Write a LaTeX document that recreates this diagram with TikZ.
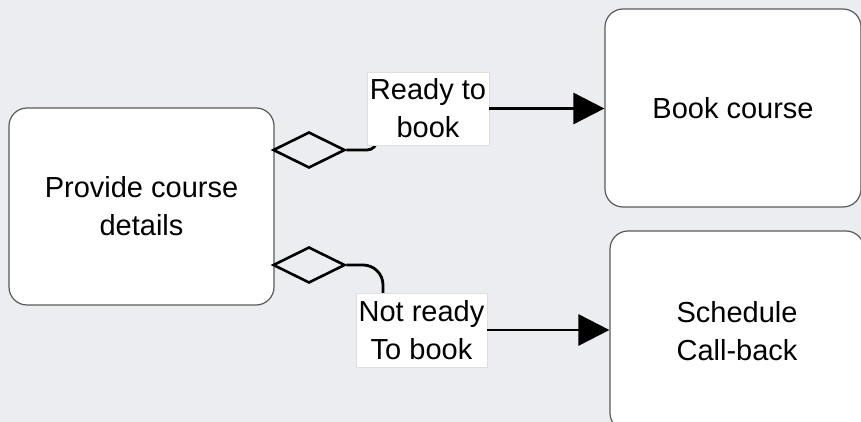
\documentclass[tikz,border=0pt]{standalone}
\usepackage{fontspec}
\setmainfont{Liberation Sans}
\usetikzlibrary{shapes.geometric,arrows.meta}
\definecolor{canvas}{RGB}{236,237,241}
\definecolor{boxline}{RGB}{90,90,90}
\definecolor{tagline}{RGB}{222,222,226}
\tikzset{
  x=1pt, y=-1pt,
  txt/.style={font=\fontsize{29}{38}\selectfont, align=center},
  activity/.style={txt, draw=boxline, line width=1.2pt, fill=white,
    rounded corners=18pt, inner sep=0pt},
  tag/.style={txt, draw=tagline, line width=0.8pt, fill=white, inner sep=0pt},
  gate/.style={diamond, aspect=2, draw=black, line width=2.6pt,
    minimum width=72pt, minimum height=36pt, inner sep=0pt},
  conn/.style={draw=black, line width=2.8pt},
  flow/.style={conn, -{Triangle[length=31pt,width=31pt]}}
}
\begin{document}
\begin{tikzpicture}
  \fill[canvas] (0,0) rectangle (861,422);
  \useasboundingbox (0,0) rectangle (861,422);
  \clip (0,0) rectangle (861,422);

  % activities
  \node[activity, minimum width=265pt, minimum height=197pt] (provide)
    at (141.5,206.5) {Provide course\\details};
  \node[activity, minimum width=256pt, minimum height=198pt] (book)
    at (733,108) {Book course};
  \node[activity, minimum width=254pt, minimum height=200pt] (sched)
    at (737,331) {Schedule\\Call-back};

  % decision gates on the right side of the first activity
  \node[gate] (g1) at (309,150) {};
  \node[gate] (g2) at (309,265) {};

  % bends of the outgoing connectors
  \coordinate (b1) at (377,130);
  \coordinate (b2) at (383,310);
  \draw[conn, rounded corners=10pt] (g1.east) -| (b1);
  \draw[conn, rounded corners=20pt] (g2.east) -| (b2);

  % condition labels
  \node[tag, minimum width=122pt, minimum height=73pt] (t1)
    at (428,108.5) {Ready to\\book};
  \node[tag, minimum width=131pt, minimum height=74pt] (t2)
    at (421.5,330) {Not ready\\To book};

  % flows into the next activities
  \draw[flow] (t1.east) -- (t1.east -| book.west);
  \draw[flow] (t2.east) -- (t2.east -| sched.west);
\end{tikzpicture}
\end{document}
